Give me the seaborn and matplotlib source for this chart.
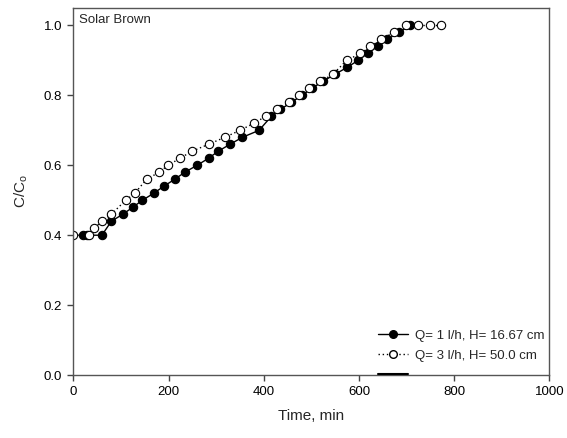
import numpy as np
import pandas as pd
import matplotlib
matplotlib.use("Agg")
import matplotlib.pyplot as plt
from matplotlib.lines import Line2D
import seaborn as sns

# ================================
# DATA
# ================================
t_q1 = [20, 28, 60, 80, 104, 125, 145, 169, 190, 213, 234, 260, 284, 304, 329, 355,
        390, 416, 435, 458, 480, 501, 524, 549, 575, 598, 618, 639, 659, 684, 708]
c_q1 = [0.40, 0.40, 0.40, 0.44, 0.46, 0.48, 0.50, 0.52, 0.54, 0.56, 0.58, 0.60, 0.62, 0.64,
        0.66, 0.68, 0.70, 0.74, 0.76, 0.78, 0.80, 0.82, 0.84, 0.86, 0.88, 0.90, 0.92, 0.94,
        0.96, 0.98, 1.00]

t_q3 = [0, 33, 44, 60, 80, 110, 129, 154, 180, 199, 224, 249, 284, 318, 350, 379, 404,
        428, 454, 475, 495, 519, 545, 574, 603, 624, 647, 673, 698, 723, 749, 773]
c_q3 = [0.40, 0.40, 0.42, 0.44, 0.46, 0.50, 0.52, 0.56, 0.58, 0.60, 0.62, 0.64, 0.66, 0.68,
        0.70, 0.72, 0.74, 0.76, 0.78, 0.80, 0.82, 0.84, 0.86, 0.90, 0.92, 0.94, 0.96, 0.98,
        1.00, 1.00, 1.00, 1.00]

label_q1 = "Q= 1 l/h, H= 16.67 cm"
label_q3 = "Q= 3 l/h, H= 50.0 cm"
x_ticks = [0, 200, 400, 600, 800, 1000]
y_ticks = [0.0, 0.2, 0.4, 0.6, 0.8, 1.0]

# ================================
# STYLE
# ================================
sns.set_theme(style="ticks")
plt.rcParams["font.family"] = ["Liberation Sans", "DejaVu Sans"]
plt.rcParams["mathtext.fontset"] = "custom"
plt.rcParams["mathtext.rm"] = "Liberation Sans"
plt.rcParams["mathtext.it"] = "Liberation Sans"

fig = plt.figure(figsize=(5.67, 4.38), dpi=100)
ax = fig.add_axes([0.1293, 0.1438, 0.8397, 0.8379])

df1 = pd.DataFrame({"t": t_q1, "c": c_q1})
df3 = pd.DataFrame({"t": t_q3, "c": c_q3})

MS = 6
sns.lineplot(data=df1, x="t", y="c", ax=ax, color="black", lw=1, ls="-",
             marker="o", ms=MS, mfc="black", mec="black", mew=0.8, sort=False)
sns.lineplot(data=df3, x="t", y="c", ax=ax, color="black", lw=1, ls=(0, (1, 2)),
             marker="o", ms=MS, mfc="white", mec="black", mew=0.8, sort=False)

ax.set_xlim(0, 1000)
ax.set_ylim(0, 1.05)
ax.set_xticks(x_ticks)
ax.set_yticks(y_ticks)
ax.set_yticklabels([f"{v:.1f}" for v in y_ticks])
ax.tick_params(direction="out", length=4, width=1, labelsize=9.5, colors="#444444",
               labelcolor="black", pad=4)
for s in ax.spines.values():
    s.set_color("#555555")
    s.set_linewidth(1)

ax.set_xlabel("Time, min", fontsize=11, labelpad=8)
ax.set_ylabel("C/C$_\\mathrm{o}$", fontsize=11, labelpad=10)

ax.text(0.012, 0.985, "Solar Brown", transform=ax.transAxes, fontsize=9.5,
        ha="left", va="top")

# legend (third entry is the stray unlabeled line in the original)
handles = [
    Line2D([], [], color="black", lw=1, ls="-", marker="o", ms=5.5, mfc="black", mec="black"),
    Line2D([], [], color="black", lw=1, ls=(0, (1, 2)), marker="o", ms=5.5, mfc="white", mec="black"),
    Line2D([], [], color="black", lw=1.5, ls="-"),
]
ax.legend(handles, [label_q1, label_q3, ""], loc="lower right", frameon=False,
          fontsize=9.5, handlelength=2.3, handletextpad=0.5, labelspacing=0.6,
          bbox_to_anchor=(1.0, -0.0335), borderaxespad=0)

fig.savefig("out.png", dpi=100)
